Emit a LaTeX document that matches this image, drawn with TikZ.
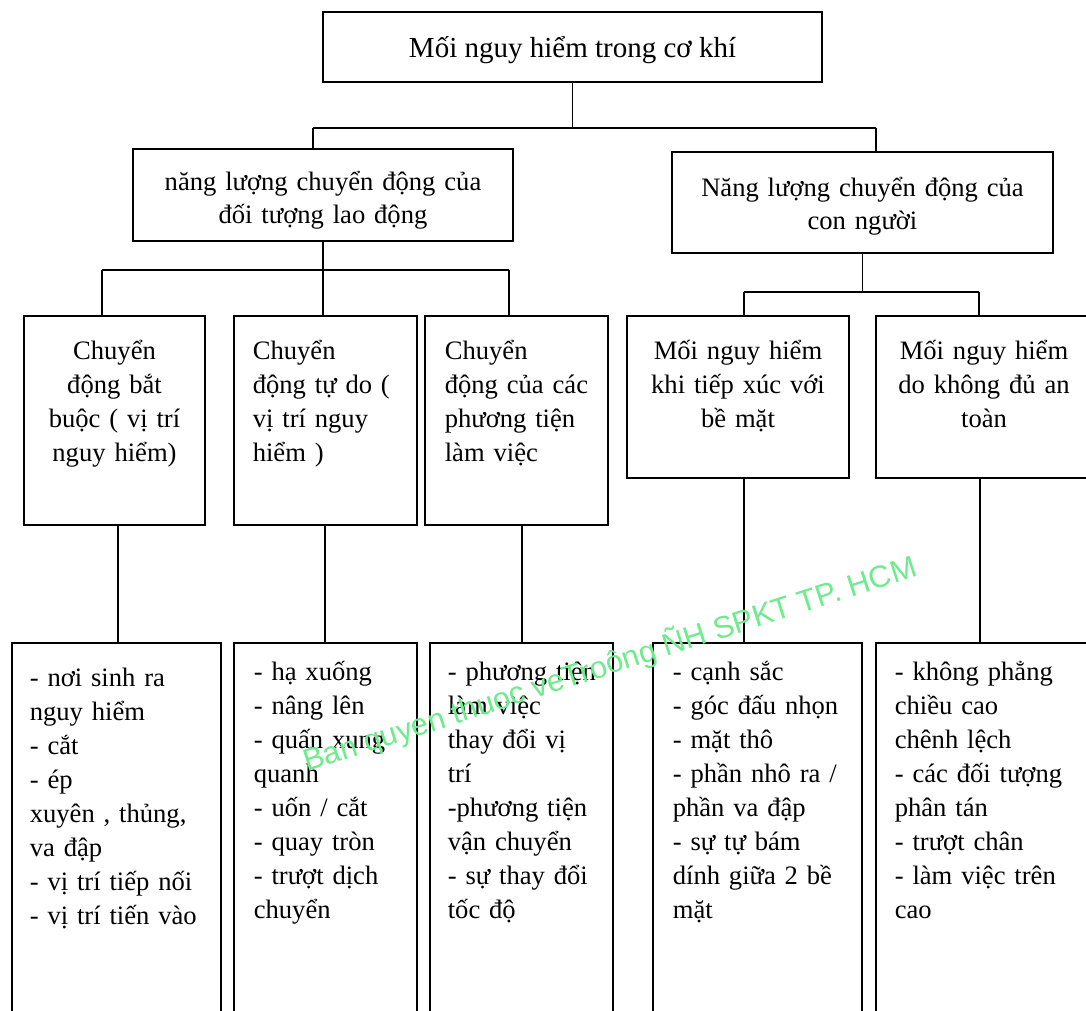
\documentclass[tikz,border=0pt]{standalone}
\usepackage{fontspec}
\setmainfont{Liberation Serif}
\newfontfamily\marksans{Liberation Sans}
\usetikzlibrary{fit}
\definecolor{markgreen}{RGB}{110,235,140}

\begin{document}
\begin{tikzpicture}[
   x=0.5pt, y=-0.5pt,
   box/.style={draw, line width=0.6pt, inner sep=0pt},
   txt/.style={inner sep=0pt, font=\fontsize{13.3}{16.5}\selectfont},
   head/.style={txt, font=\fontsize{13.3}{17}\selectfont},
   list/.style={txt, anchor=base west, text width=95pt, align=left,
                font=\fontsize{13.3}{17}\selectfont},
   link/.style={line width=0.6pt}]
  \useasboundingbox (0,0) rectangle (1086,1011);

  % frames
  \node[box, fit={(323,12) (822,82)}] (top) {};
  \node[box, fit={(133,149) (513,241)}] (m1) {};
  \node[box, fit={(672,152) (1053,253)}] (m2) {};
  \node[box, fit={(24,316) (205,525)}] (c1) {};
  \node[box, fit={(234,316) (417,525)}] (c2) {};
  \node[box, fit={(425,316) (608,525)}] (c3) {};
  \node[box, fit={(627,316) (849,478)}] (c4) {};
  \node[box, fit={(876,316) (1092,478)}] (c5) {};
  \node[box, fit={(12,643) (221,1031)}] (l1) {};
  \node[box, fit={(234,643) (417,1031)}] (l2) {};
  \node[box, fit={(430,643) (613,1031)}] (l3) {};
  \node[box, fit={(653,643) (862,1031)}] (l4) {};
  \node[box, fit={(876,643) (1092,1031)}] (l5) {};

  % texts
  \node[txt, anchor=base, font=\fontsize{14.5}{17}\selectfont] (topt)
    at ([yshift=-23pt]top.north) {Mối nguy hiểm trong cơ khí};
  \node[txt, anchor=base, text width=180pt, align=center] (m1t)
    at ([yshift=-21pt]m1.north) {năng lượng chuyển động của\\đối tượng lao động};
  \node[txt, anchor=base, text width=180pt, align=center] (m2t)
    at ([yshift=-22.5pt]m2.north) {Năng lượng chuyển động của\\con người};
  \node[head, anchor=base, text width=86pt, align=center] (c1t)
    at ([yshift=-22pt]c1.north) {Chuyển\\động bắt\\buộc ( vị trí\\nguy hiểm)};
  \node[head, anchor=base west, text width=82pt, align=left] (c2t)
    at ([xshift=9.5pt, yshift=-22pt]c2.north west) {Chuyển\\động tự do (\\vị trí nguy\\hiểm )};
  \node[head, anchor=base west, text width=82pt, align=left] (c3t)
    at ([xshift=10pt, yshift=-22pt]c3.north west) {Chuyển\\động của các\\phương tiện\\làm việc};
  \node[head, anchor=base, text width=105pt, align=center] (c4t)
    at ([yshift=-22pt]c4.north) {Mối nguy hiểm\\khi tiếp xúc với\\bề mặt};
  \node[head, anchor=base, text width=100pt, align=center] (c5t)
    at ([yshift=-22pt]c5.north) {Mối nguy hiểm\\do không đủ an\\toàn};
  \node[list] (l1t) at ([xshift=9pt, yshift=-22pt]l1.north west)
    {- nơi sinh ra\\nguy hiểm\\- cắt\\- ép\\xuyên , thủng,\\va đập\\- vị trí tiếp nối\\- vị trí tiến vào};
  \node[list] (l2t) at ([xshift=10pt, yshift=-19pt]l2.north west)
    {- hạ xuống\\- nâng lên\\- quấn xung\\quanh\\- uốn / cắt\\- quay tròn\\- trượt dịch\\chuyển};
  \node[list] (l3t) at ([xshift=9pt, yshift=-19pt]l3.north west)
    {- phương tiện\\làm việc\\thay đổi vị\\trí\\-phương tiện\\vận chuyển\\- sự thay đổi\\tốc độ};
  \node[list] (l4t) at ([xshift=10pt, yshift=-19pt]l4.north west)
    {- cạnh sắc\\- góc đấu nhọn\\- mặt thô\\- phần nhô ra /\\phần va đập\\- sự tự bám\\dính giữa 2 bề\\mặt};
  \node[list] (l5t) at ([xshift=9.5pt, yshift=-19pt]l5.north west)
    {- không phẳng\\chiều cao\\chênh lệch\\- các đối tượng\\phân tán\\- trượt chân\\- làm việc trên\\cao};

  % connectors
  \coordinate (j0) at (313,128);
  \coordinate (j1) at (876,128);
  \draw[link] (top.south) -- (top.south |- j0);
  \draw[link] (j0) -- (j1);
  \draw[link] (j0) -- (j0 |- m1.north);
  \draw[link] (j1) -- (j1 |- m2.north);

  \coordinate (k0) at (102,270);
  \coordinate (k1) at (509,270);
  \draw[link] (m1.south) -- (m1.south |- k0);
  \draw[link] (k0) -- (k1);
  \draw[link] (k0) -- (k0 |- c1.north);
  \draw[link] (m1.south |- k0) -- (m1.south |- c2.north);
  \draw[link] (k1) -- (k1 |- c3.north);

  \coordinate (r0) at (744,292);
  \coordinate (r1) at (979,292);
  \draw[link] (m2.south) -- (m2.south |- r0);
  \draw[link] (r0) -- (r1);
  \draw[link] (r0) -- (r0 |- c4.north);
  \draw[link] (r1) -- (r1 |- c5.north);

  \foreach \n/\x in {1/118, 2/325, 3/522, 4/744, 5/980} {
    \coordinate (x\n) at (\x,0);
    \draw[link] (c\n.south -| x\n) -- (l\n.north -| x\n);
  }

  % watermark
  \node[inner sep=0pt, anchor=base west, rotate=17.8, text=markgreen,
        font=\marksans\fontsize{15.4}{18}\selectfont] (mark)
    at (307,772) {Ban quyen thuoc veTroông ÑH SPKT TP. HCM};
\end{tikzpicture}
\end{document}
